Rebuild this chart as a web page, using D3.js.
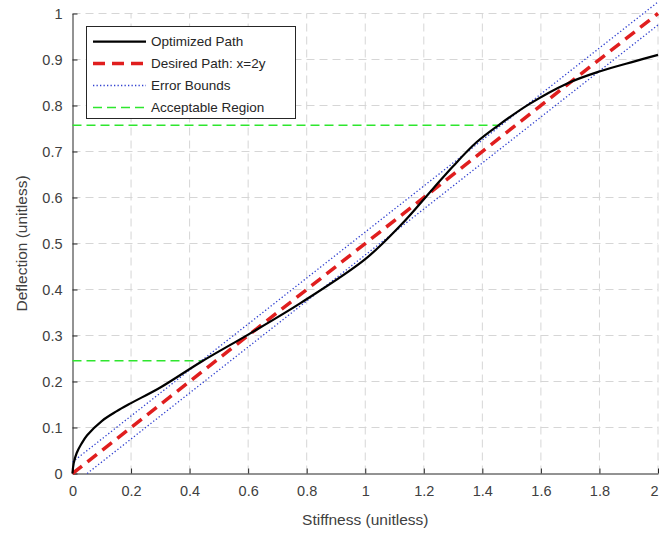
<!DOCTYPE html>
<html>
<head>
<meta charset="utf-8">
<script src="https://cdn.jsdelivr.net/npm/d3@7"></script>
<style>
  body { margin: 0; background: #fff; }
  svg { display: block; font-family: "Liberation Sans", Arial, sans-serif; }
</style>
</head>
<body>
<div id="chart"></div>
<script>
// Data
const stiffness = [0, 0.004, 0.014, 0.03, 0.05, 0.1, 0.15, 0.2, 0.3, 0.44, 0.6, 0.78, 1.0, 1.12, 1.23, 1.3, 1.38, 1.455, 1.56, 1.69, 1.8, 1.92, 2.0];
const deflection = [0, 0.022, 0.044, 0.064, 0.083, 0.114, 0.135, 0.153, 0.187, 0.243, 0.302, 0.371, 0.466, 0.539, 0.618, 0.668, 0.72, 0.757, 0.803, 0.848, 0.874, 0.896, 0.91];
const desiredX = [0, 2];              // x = 2y
const errorOffset = 0.05;             // bounds: x = 2y +/- 0.05
const acceptY = [0.245, 0.757];       // acceptable region levels
const acceptXEnd = [0.44, 1.455];
const xTicks = [0, 0.2, 0.4, 0.6, 0.8, 1, 1.2, 1.4, 1.6, 1.8, 2];
const yTicks = [0, 0.1, 0.2, 0.3, 0.4, 0.5, 0.6, 0.7, 0.8, 0.9, 1];
const legendLabels = ['Optimized Path', 'Desired Path: x=2y', 'Error Bounds', 'Acceptable Region'];

const width = 659;
const height = 533;
const margin = { top: 13.5, right: 1, bottom: 59.5, left: 72.5 };

const svg = d3.select('#chart')
  .append('svg')
  .attr('width', width)
  .attr('height', height);

const x = d3.scaleLinear().domain([0, 2]).range([margin.left, width - margin.right]);
const y = d3.scaleLinear().domain([0, 1]).range([height - margin.bottom, margin.top]);

const textColor = '#404040';

// Grid lines
svg.append('g')
  .selectAll('line')
  .data(xTicks.slice(1))
  .join('line')
  .attr('x1', (d) => x(d)).attr('x2', (d) => x(d))
  .attr('y1', y(0)).attr('y2', y(1))
  .attr('stroke', '#d6d6d6')
  .attr('stroke-dasharray', '8 5');

svg.append('g')
  .selectAll('line')
  .data(yTicks.slice(1))
  .join('line')
  .attr('x1', x(0)).attr('x2', x(2))
  .attr('y1', (d) => y(d)).attr('y2', (d) => y(d))
  .attr('stroke', '#d6d6d6')
  .attr('stroke-dasharray', '8 5');

// Axes (ticks pointing inward)
const xAxis = d3.axisBottom(x).tickValues(xTicks).tickFormat(d3.format('')).tickSize(-5).tickPadding(12).tickSizeOuter(0);
svg.append('g')
  .attr('transform', `translate(0,${y(0)})`)
  .call(xAxis)
  .call((g) => g.select('.domain').attr('stroke', '#262626'))
  .call((g) => g.selectAll('.tick line').attr('stroke', '#262626'))
  .call((g) => g.selectAll('.tick text').attr('fill', textColor).attr('font-size', 14.5))
  // last label sits on the window edge; nudge it in so it stays readable
  .call((g) => g.selectAll('.tick text').filter((d) => d === 2).attr('dx', -4));

const yAxis = d3.axisLeft(y).tickValues(yTicks).tickFormat(d3.format('')).tickSize(-5).tickPadding(10).tickSizeOuter(0);
svg.append('g')
  .attr('transform', `translate(${x(0)},0)`)
  .call(yAxis)
  .call((g) => g.select('.domain').attr('stroke', '#262626'))
  .call((g) => g.selectAll('.tick line').attr('stroke', '#262626'))
  .call((g) => g.selectAll('.tick text').attr('fill', textColor).attr('font-size', 14.5));

// Axis titles
svg.append('text')
  .attr('x', x(1))
  .attr('y', 525)
  .attr('text-anchor', 'middle')
  .attr('fill', textColor)
  .attr('font-size', 15.5)
  .text('Stiffness (unitless)');

svg.append('text')
  .attr('transform', `translate(27,${y(0.5)}) rotate(-90)`)
  .attr('text-anchor', 'middle')
  .attr('fill', textColor)
  .attr('font-size', 15.5)
  .text('Deflection (unitless)');

const plot = svg.append('g');

// Acceptable region
plot.selectAll('.accept')
  .data(acceptY)
  .join('line')
  .attr('class', 'accept')
  .attr('x1', x(0))
  .attr('x2', (d, i) => x(acceptXEnd[i]))
  .attr('y1', (d) => y(d)).attr('y2', (d) => y(d))
  .attr('stroke', '#2ee62e')
  .attr('stroke-width', 1.5)
  .attr('stroke-dasharray', '9 5');

// Error bounds: y = (x -/+ offset) / 2, clipped to y >= 0
const line = d3.line().x((d) => x(d[0])).y((d) => y(d[1]));
[errorOffset, -errorOffset].forEach((off) => {
  const x0 = Math.max(0, off);
  const pts = [[x0, (x0 - off) / 2], [2, (2 - off) / 2]];
  plot.append('path')
    .attr('fill', 'none')
    .attr('stroke', '#3040d0')
    .attr('stroke-width', 1.3)
    .attr('stroke-dasharray', '1.3 2.2')
    .attr('d', line(pts));
});

// Desired path x = 2y
plot.append('path')
  .attr('fill', 'none')
  .attr('stroke', '#e01e1e')
  .attr('stroke-width', 3.5)
  .attr('stroke-dasharray', '12 7')
  .attr('d', line(desiredX.map((d) => [d, d / 2])));

// Optimized path
const optLine = d3.line()
  .x((d) => x(d[0]))
  .y((d) => y(d[1]))
  .curve(d3.curveCatmullRom.alpha(0.5));
plot.append('path')
  .attr('fill', 'none')
  .attr('stroke', '#000')
  .attr('stroke-width', 2.2)
  .attr('d', optLine(stiffness.map((d, i) => [d, deflection[i]])));

// Legend
const legend = svg.append('g');
legend.append('rect')
  .attr('x', 86.5).attr('y', 26.5)
  .attr('width', 209).attr('height', 92)
  .attr('fill', '#fff')
  .attr('stroke', '#262626')
  .attr('stroke-width', 1);

const legendStyles = [
  { stroke: '#000', width: 2.2, dash: null },
  { stroke: '#e01e1e', width: 3.5, dash: '12 7' },
  { stroke: '#3040d0', width: 1.3, dash: '1.3 2.2' },
  { stroke: '#2ee62e', width: 1.5, dash: '9 5' }
];

const rows = legend.selectAll('.row')
  .data(legendLabels)
  .join('g')
  .attr('class', 'row')
  .attr('transform', (d, i) => `translate(0,${41.7 + i * 21.9})`);

rows.append('line')
  .attr('x1', 93).attr('x2', 146)
  .attr('stroke', (d, i) => legendStyles[i].stroke)
  .attr('stroke-width', (d, i) => legendStyles[i].width)
  .attr('stroke-dasharray', (d, i) => legendStyles[i].dash);

rows.append('text')
  .attr('x', 151)
  .attr('dy', '0.35em')
  .attr('fill', '#262626')
  .attr('font-size', 13.5)
  .text((d) => d);
</script>
</body>
</html>
